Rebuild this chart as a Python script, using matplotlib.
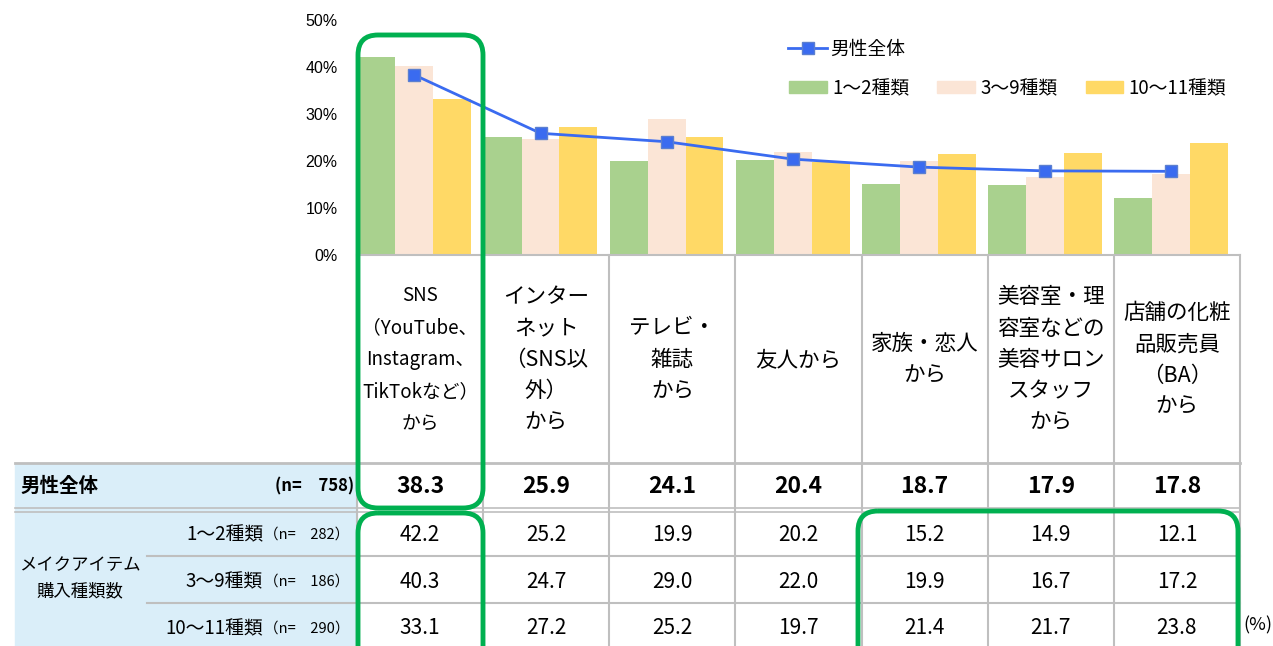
import numpy as np
import matplotlib
matplotlib.use('Agg')
import matplotlib.pyplot as plt
import matplotlib.transforms as mtransforms
from matplotlib.patches import FancyBboxPatch, Rectangle, Patch

plt.rcParams['font.family'] = ['Noto Sans CJK JP', 'DejaVu Sans']

# data
categories = [
    'SNS\n（YouTube、\nInstagram、\nTikTokなど）\nから',
    'インター\nネット\n（SNS以\n外）\nから',
    'テレビ・\n雑誌\nから',
    '友人から',
    '家族・恋人\nから',
    '美容室・理\n容室などの\n美容サロン\nスタッフ\nから',
    '店舗の化粧\n品販売員\n（BA）\nから',
]
overall = [38.3, 25.9, 24.1, 20.4, 18.7, 17.9, 17.8]
g1 = [42.2, 25.2, 19.9, 20.2, 15.2, 14.9, 12.1]
g2 = [40.3, 24.7, 29.0, 22.0, 19.9, 16.7, 17.2]
g3 = [33.1, 27.2, 25.2, 19.7, 21.4, 21.7, 23.8]
group_names = ['1～2種類', '3～9種類', '10～11種類']
group_n = [282, 186, 290]
overall_name = '男性全体'
overall_n = 758
yticks = [0, 10, 20, 30, 40, 50]

c_green = '#A9D18E'
c_pink = '#FBE5D6'
c_yellow = '#FFD966'
c_line = '#3A6BF0'
c_grid = '#BFBFBF'
c_blue_bg = '#DAEEF9'
c_frame = '#00B050'

W, H = 1273, 646
fig = plt.figure(figsize=(W / 100, H / 100), dpi=100)

# chart part
ax = fig.add_axes([357 / W, 1 - 255 / H, (1240 - 357) / W, (255 - 20) / H], zorder=2)
ax.patch.set_alpha(0)
x = np.arange(len(categories))
w = 0.3
off = -0.045
ax.bar(x + off - w, g1, w, color=c_green, label=group_names[0])
ax.bar(x + off, g2, w, color=c_pink, label=group_names[1])
ax.bar(x + off + w, g3, w, color=c_yellow, label=group_names[2])
line, = ax.plot(x + off, overall, color=c_line, lw=2, marker='s', ms=9,
                mfc=c_line, mec='#5B7FD0', label=overall_name)
ax.set_xlim(-0.5, len(categories) - 0.5)
ax.set_ylim(0, 50)
ax.set_yticks(yticks)
ax.set_yticklabels([f'{t}%' for t in yticks], fontsize=11.5, family='Liberation Sans')
ax.tick_params(axis='y', length=0, pad=14)
ax.set_xticks([])
for s in ax.spines.values():
    s.set_visible(False)

leg1 = ax.legend(handles=[line], loc='upper left', bbox_to_anchor=(788 / W, 1 - 39 / H),
                 bbox_transform=fig.transFigure, frameon=False, fontsize=13.5,
                 borderpad=0, borderaxespad=0, handlelength=2.1, handletextpad=0.15)
ax.add_artist(leg1)
bar_handles = [Patch(color=c) for c in (c_green, c_pink, c_yellow)]
ax.legend(handles=bar_handles, labels=group_names, loc='upper left', ncol=3,
          bbox_to_anchor=(789 / W, 1 - 78 / H), bbox_transform=fig.transFigure,
          frameon=False, fontsize=13.5, borderpad=0, borderaxespad=0,
          handlelength=2.0, handleheight=0.6, handletextpad=0.3, columnspacing=1.5)

# table part, pixel coordinates
tab = fig.add_axes([0, 0, 1, 1], zorder=5)
tab.set_xlim(0, W)
tab.set_ylim(H, 0)
tab.axis('off')
tab.patch.set_alpha(0)
colx = mtransforms.blended_transform_factory(ax.transData, tab.transData)

top, head_bot, r1_bot = 255, 463, 510
sub_rows = [510, 556, 603, 650]

tab.add_patch(Rectangle((15, head_bot), 357 - 15, H - head_bot, color=c_blue_bg, zorder=0))

# grid
tab.plot([357, 1240], [top, top], color=c_grid, lw=1.5)
tab.plot([15, 1240], [head_bot, head_bot], color=c_grid, lw=2)
tab.plot([15, 1240], [r1_bot - 2, r1_bot - 2], color=c_grid, lw=1.2)
tab.plot([15, 1240], [r1_bot + 2, r1_bot + 2], color=c_grid, lw=1.2)
for yy in sub_rows[1:3]:
    tab.plot([147, 1240], [yy, yy], color=c_grid, lw=1.5)
for b in np.arange(len(categories) + 1) - 0.5:
    tab.plot([b, b], [top, H], color=c_grid, lw=1.5, transform=colx)

# header labels
for i, cat in enumerate(categories):
    tab.text(i, (top + head_bot) / 2 + 1, cat, transform=colx, ha='center', va='center',
             fontsize=13.5 if i == 0 else 15.5, linespacing=1.7 if i == 0 else 1.55)

# overall row
ymid = (head_bot + r1_bot) / 2
tab.text(20, ymid, overall_name, ha='left', va='center', fontsize=14, fontweight='bold')
tab.text(354, ymid, f'(n=　{overall_n})', ha='right', va='center', fontsize=12, fontweight='bold')
for i, v in enumerate(overall):
    tab.text(i, ymid, f'{v:.1f}', transform=colx, ha='center', va='center',
             fontsize=16.5, fontweight='bold')

# group rows
tab.text(80, 578, 'メイクアイテム\n購入種類数', ha='center', va='center', fontsize=12.5,
         linespacing=1.6)
for r, (name, n, vals) in enumerate(zip(group_names, group_n, [g1, g2, g3])):
    yc = (sub_rows[r] + sub_rows[r + 1]) / 2 + 2
    tab.text(263, yc, name, ha='right', va='center', fontsize=13.5)
    tab.text(349, yc, f'（n=　{n}）', ha='right', va='center', fontsize=10.5)
    for i, v in enumerate(vals):
        tab.text(i, yc, f'{v:.1f}', transform=colx, ha='center', va='center', fontsize=15)

tab.text(1243, 625, '(%)', ha='left', va='center', fontsize=13)

# green highlight frames
frames = [(358, 35, 125, 473), (358, 513, 125, 160), (858, 511, 380, 160)]
for fx0, fy0, fw, fh in frames:
    tab.add_patch(FancyBboxPatch((fx0, fy0), fw, fh,
                                 boxstyle='round,pad=0,rounding_size=20',
                                 fill=False, ec=c_frame, lw=3.5, clip_on=False, zorder=10))

fig.savefig('out.png', dpi=100)
